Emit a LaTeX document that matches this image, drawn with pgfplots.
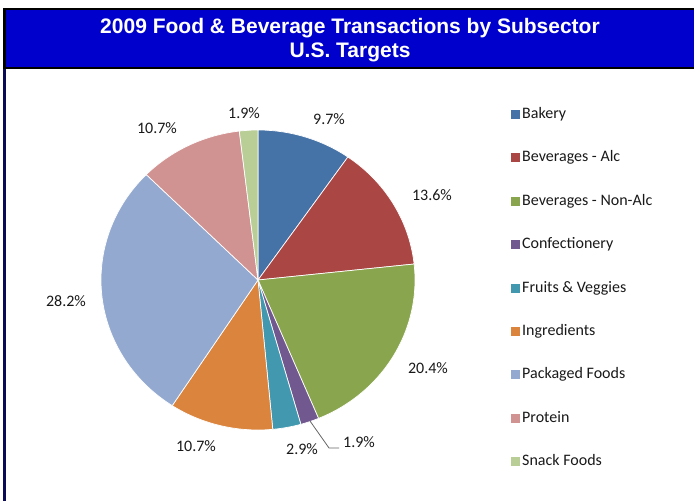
\documentclass[border=0pt]{standalone}
\usepackage{pgfplots}
\pgfplotsset{compat=1.18}
\usepackage{fontspec}
\setmainfont{Carlito}
\newfontfamily\titlefont{Liberation Sans}
\definecolor{cBak}{HTML}{4572A7}
\definecolor{cAlc}{HTML}{AA4643}
\definecolor{cNon}{HTML}{89A54E}
\definecolor{cCon}{HTML}{71588F}
\definecolor{cFru}{HTML}{4198AF}
\definecolor{cIng}{HTML}{DB843D}
\definecolor{cPac}{HTML}{93A9CF}
\definecolor{cPro}{HTML}{D19392}
\definecolor{cSna}{HTML}{B9CD96}
\definecolor{titleblue}{HTML}{0000CC}
\definecolor{navy}{HTML}{0A0A55}
% slice from cumulative percent #1 to #2
\newcommand\pieslice[3]{%
  \addplot[fill=#3, draw=white, line width=0.7bp, domain=#1:#2, samples=80, variable=\t]
    ({258+157*sin(3.6*\t)},{280-150*cos(3.6*\t)}) -- (axis cs:258,280) -- cycle;}
\begin{document}
\begin{tikzpicture}
\useasboundingbox (0,0) rectangle (694bp,501bp);
\begin{axis}[
  at={(0,0)}, anchor=south west,
  width=694bp, height=501bp, scale only axis,
  xmin=0, xmax=694, ymin=0, ymax=501, y dir=reverse,
  hide axis, clip=false,
  legend cell align=left,
  legend image code/.code={\fill[#1, draw=none] (0bp,-4.5bp) rectangle (9bp,4.5bp);},
  legend style={draw=none, fill=none, at={(axis cs:511,288)}, anchor=west,
    inner xsep=0pt, inner ysep=0pt, row sep=27.4bp, column sep=0pt,
    font=\fontsize{16bp}{18bp}\selectfont,
    nodes={inner xsep=2bp, inner ysep=1bp, text height=11bp, text depth=3bp, text=black!90}},
]
% frame
\fill[navy] (axis cs:3,8) rectangle (axis cs:6,501);
\fill[black] (axis cs:3,8) rectangle (axis cs:694,69);
\fill[titleblue] (axis cs:6,10) rectangle (axis cs:694,67);
\node[text=white, font=\titlefont\bfseries\fontsize{21bp}{24bp}\selectfont] at (axis cs:350,28) {2009 Food \& Beverage Transactions by Subsector};
\node[text=white, font=\titlefont\bfseries\fontsize{21bp}{24bp}\selectfont] at (axis cs:350,52) {U.S. Targets};
% pie (cumulative percentages)
\pieslice{0}{9.7}{cBak}     \addlegendentry{Bakery}
\pieslice{9.7}{23.3}{cAlc}  \addlegendentry{Beverages - Alc}
\pieslice{23.3}{43.7}{cNon} \addlegendentry{Beverages - Non-Alc}
\pieslice{43.7}{45.6}{cCon} \addlegendentry{Confectionery}
\pieslice{45.6}{48.5}{cFru} \addlegendentry{Fruits \& Veggies}
\pieslice{48.5}{59.2}{cIng} \addlegendentry{Ingredients}
\pieslice{59.2}{87.4}{cPac} \addlegendentry{Packaged Foods}
\pieslice{87.4}{98.1}{cPro} \addlegendentry{Protein}
\pieslice{98.1}{100}{cSna}  \addlegendentry{Snack Foods}
% labels
\begin{scope}[every node/.style={font=\fontsize{16bp}{18bp}\selectfont, text=black!90}]
\node at (axis cs:329,119) {9.7\%};
\node at (axis cs:432,195) {13.6\%};
\node at (axis cs:428,368) {20.4\%};
\node at (axis cs:359,442) {1.9\%};
\node at (axis cs:302,449) {2.9\%};
\node at (axis cs:196,446) {10.7\%};
\node at (axis cs:66,301) {28.2\%};
\node at (axis cs:157,128) {10.7\%};
\node at (axis cs:244,113) {1.9\%};
\end{scope}
\draw[black!60, line width=0.8bp] (axis cs:310,421) -- (axis cs:329,448) -- (axis cs:339,448);
\end{axis}
\end{tikzpicture}
\end{document}
